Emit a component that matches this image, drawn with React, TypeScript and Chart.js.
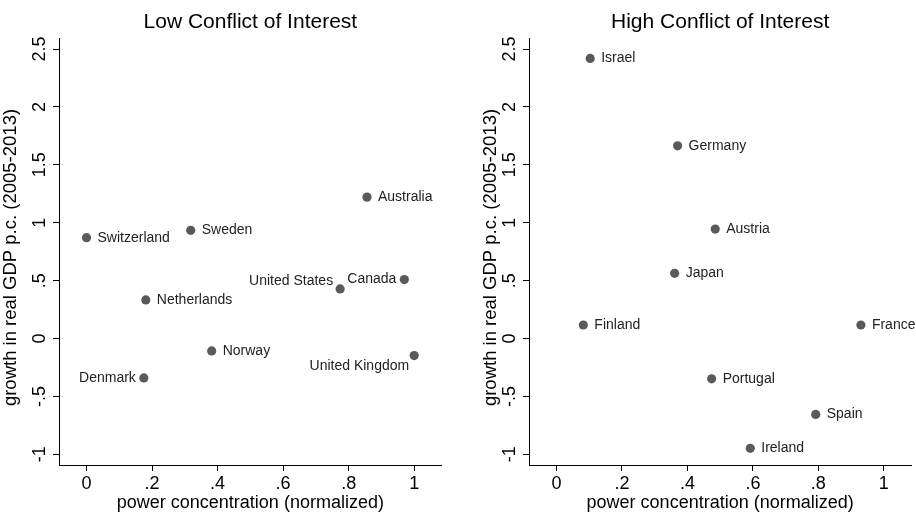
import React, { useEffect, useRef } from "react";
import { Chart, registerables } from "chart.js";

Chart.register(...registerables);

// ---- data ----
const lowCountries = ["Switzerland", "Sweden", "Australia", "Netherlands", "United States", "Canada", "Norway", "United Kingdom", "Denmark"];
const lowX = [0.0, 0.318, 0.856, 0.181, 0.774, 0.970, 0.382, 1.0, 0.175];
const lowY = [0.871, 0.934, 1.221, 0.333, 0.428, 0.509, -0.107, -0.147, -0.340];
const lowLabelPos = [3, 3, 3, 3, 10, 9, 3, 7, 9];

const highCountries = ["Israel", "Germany", "Austria", "Japan", "Finland", "France", "Portugal", "Spain", "Ireland"];
const highX = [0.103, 0.370, 0.485, 0.361, 0.082, 0.930, 0.474, 0.792, 0.592];
const highY = [2.419, 1.664, 0.945, 0.563, 0.117, 0.117, -0.348, -0.655, -0.948];
const highLabelPos = [3, 3, 3, 3, 3, 3, 3, 3, 3];

const xTickValues = [0, 0.2, 0.4, 0.6, 0.8, 1];
const xTickLabels = ["0", ".2", ".4", ".6", ".8", "1"];
const yTickValues = [-1, -0.5, 0, 0.5, 1, 1.5, 2, 2.5];
const yTickLabels = ["-1", "-.5", "0", ".5", "1", "1.5", "2", "2.5"];

const xTitle = "power concentration (normalized)";
const yTitle = "growth in real GDP p.c. (2005-2013)";

const FONT = "'Liberation Sans', Arial, Helvetica, sans-serif";

const labelPlugin = {
  id: "pointLabels",
  afterDatasetsDraw(chart: any) {
    const opts = chart.options.plugins.pointLabels;
    const names: string[] = opts.names;
    const pos: number[] = opts.pos;
    const meta = chart.getDatasetMeta(0);
    const ctx = chart.ctx;
    ctx.save();
    ctx.font = `14px ${FONT}`;
    ctx.fillStyle = "#222";
    ctx.textBaseline = "middle";
    meta.data.forEach((el: any, i: number) => {
      const p = pos[i];
      let x = el.x, y = el.y;
      if (p === 3) { ctx.textAlign = "left"; x += 11; }
      else if (p === 9) { ctx.textAlign = "right"; x -= 8; }
      else if (p === 10) { ctx.textAlign = "right"; x -= 7; y -= 8; }
      else if (p === 7) { ctx.textAlign = "right"; x -= 5; y += 11; }
      ctx.fillText(names[i], x, y);
    });
    // y axis title
    const ca = chart.chartArea;
    ctx.font = `18.5px ${FONT}`;
    ctx.fillStyle = "#000";
    ctx.textAlign = "center";
    ctx.textBaseline = "middle";
    ctx.translate(opts.yTitleX, (ca.top + ca.bottom) / 2 + 6);
    ctx.rotate(-Math.PI / 2);
    ctx.fillText(opts.yTitle, 0, 0);
    ctx.restore();
  },
};

function makeConfig(title: string, names: string[], xs: number[], ys: number[], pos: number[], padLeft: number, yWidth: number, padRight: number, yTitleX: number): any {
  return {
    type: "scatter",
    data: {
      datasets: [
        {
          data: xs.map((x, i) => ({ x, y: ys[i] })),
          backgroundColor: "#5a5a5a",
          borderColor: "#5a5a5a",
          borderWidth: 0,
          pointRadius: 4.6,
          pointHoverRadius: 4.6,
        },
      ],
    },
    options: {
      responsive: false,
      maintainAspectRatio: false,
      animation: false,
      devicePixelRatio: 1,
      layout: { padding: { left: padLeft, right: padRight, top: 0, bottom: 0 } },
      plugins: {
        legend: { display: false },
        tooltip: { enabled: false },
        title: {
          display: true,
          text: title,
          fullSize: false,
          color: "#000",
          font: { family: FONT, size: 21, weight: "normal" },
          padding: { top: 10, bottom: 2.8 },
        },
        pointLabels: { names, pos, yTitle, yTitleX },
      },
      scales: {
        x: {
          type: "linear",
          min: -0.084,
          max: 1.084,
          afterBuildTicks: (s: any) => { s.ticks = xTickValues.map((v) => ({ value: v })); },
          afterFit: (s: any) => { s.height = 49; s.paddingLeft = 0; s.paddingRight = 0; s.paddingTop = 0; s.paddingBottom = 0; },
          ticks: {
            color: "#000",
            font: { family: FONT, size: 18 },
            padding: 2,
            maxRotation: 0,
            minRotation: 0,
            autoSkip: false,
            callback: (v: number) => { const i = xTickValues.findIndex((t) => Math.abs(t - v) < 1e-9); return i >= 0 ? xTickLabels[i] : ""; },
          },
          grid: { display: true, drawOnChartArea: false, drawTicks: true, tickLength: 6, color: "#000", lineWidth: 1 },
          border: { display: true, color: "#000", width: 1 },
          title: { display: true, text: xTitle, color: "#000", font: { family: FONT, size: 18 }, padding: { top: 0, bottom: 0 } },
        },
        y: {
          type: "linear",
          min: -1.092,
          max: 2.595,
          afterBuildTicks: (s: any) => { s.ticks = yTickValues.map((v) => ({ value: v })); },
          afterFit: (s: any) => { s.width = yWidth; s.paddingLeft = 0; s.paddingRight = 0; s.paddingTop = 0; s.paddingBottom = 0; },
          ticks: {
            color: "#000",
            font: { family: FONT, size: 18 },
            padding: 0.5,
            minRotation: 90,
            maxRotation: 90,
            crossAlign: "center",
            autoSkip: false,
            callback: (v: number) => { const i = yTickValues.findIndex((t) => Math.abs(t - v) < 1e-9); return i >= 0 ? yTickLabels[i] : ""; },
          },
          grid: { display: true, drawOnChartArea: false, drawTicks: true, tickLength: 6, color: "#000", lineWidth: 1 },
          border: { display: true, color: "#000", width: 1 },
          title: { display: false },
        },
      },
    },
    plugins: [labelPlugin],
  };
}

function Panel(props: { cfg: () => any }) {
  const ref = useRef<HTMLCanvasElement | null>(null);
  useEffect(() => {
    if (!ref.current) return;
    const chart = new Chart(ref.current, props.cfg());
    return () => chart.destroy();
  }, []);
  return <canvas ref={ref} width={458} height={514} style={{ display: "block", width: 458, height: 514 }} />;
}

export default function App() {
  return (
    <div style={{ position: "absolute", left: 0, top: 0, width: 916, height: 514, display: "flex", background: "#fff" }}>
      <Panel cfg={() => makeConfig("Low Conflict of Interest", lowCountries, lowX, lowY, lowLabelPos, 0, 59, 16.3, 10.8)} />
      <Panel cfg={() => makeConfig("High Conflict of Interest", highCountries, highX, highY, highLabelPos, 22, 49, 4.7, 33)} />
    </div>
  );
}
